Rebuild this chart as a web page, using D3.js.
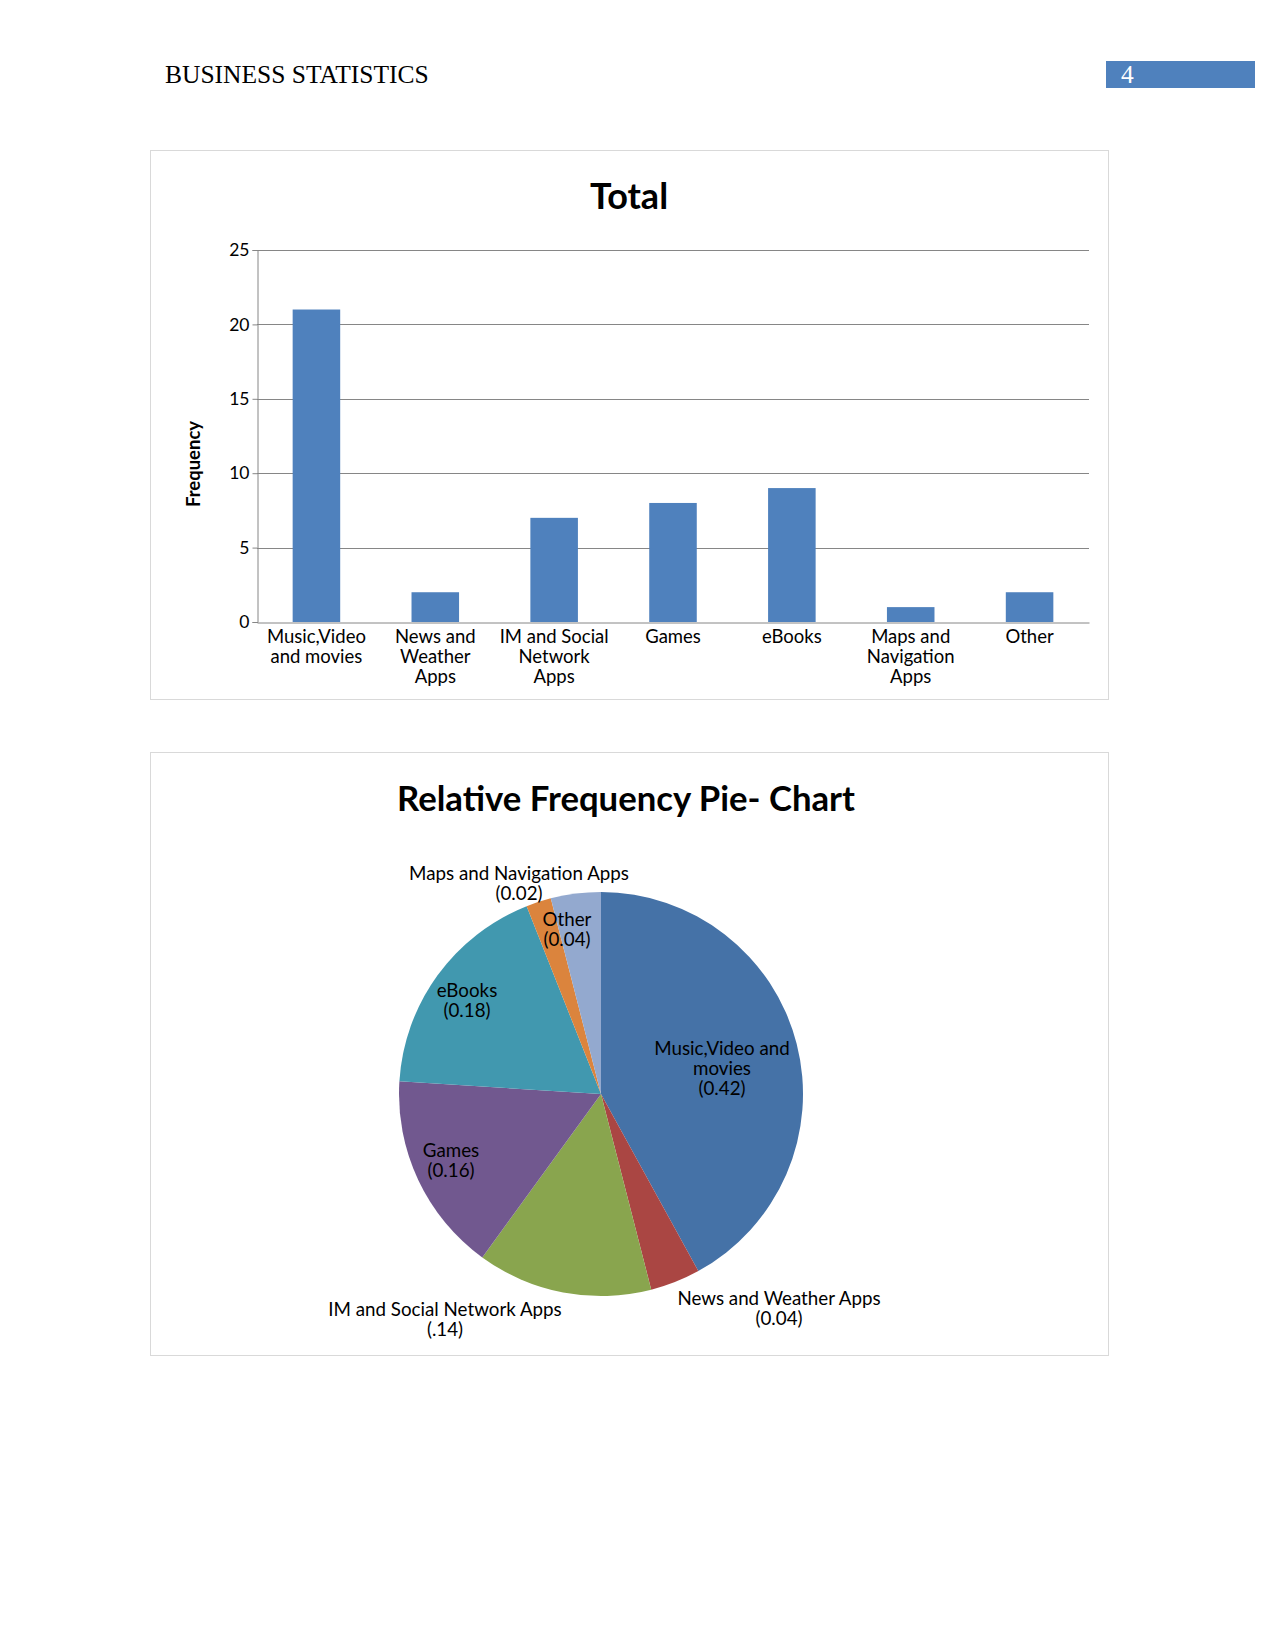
<!DOCTYPE html>
<html>
<head>
<meta charset="utf-8">
<script src="https://cdn.jsdelivr.net/npm/d3@7"></script>
<style>
  html, body { margin: 0; padding: 0; background: #fff; }
  svg { display: block; }
  text { font-family: Lato, "Open Sans", sans-serif; }
</style>
</head>
<body>
<svg id="page" width="1275" height="1650"></svg>
<script>
// ---- data ----
const categories = ["Music,Video and movies", "News and Weather Apps", "IM and Social Network Apps", "Games", "eBooks", "Maps and Navigation Apps", "Other"];
const barLabelLines = [["Music,Video", "and movies"], ["News and", "Weather", "Apps"], ["IM and Social", "Network", "Apps"], ["Games"], ["eBooks"], ["Maps and", "Navigation", "Apps"], ["Other"]];
const frequencies = [21, 2, 7, 8, 9, 1, 2];
const yTicks = [0, 5, 10, 15, 20, 25];
const pieLabelLines = [["Music,Video and", "movies", "(0.42)"], ["News and Weather Apps", "(0.04)"], ["IM and Social Network Apps", "(.14)"], ["Games", "(0.16)"], ["eBooks", "(0.18)"], ["Maps and Navigation Apps", "(0.02)"], ["Other", "(0.04)"]];
const pieColors = ["#4572A7", "#AA4643", "#89A54E", "#71588F", "#4198AF", "#DB843D", "#93A9CF"];

const svg = d3.select("#page");
svg.append("rect").attr("width", 1275).attr("height", 1650).attr("fill", "#fff");

// ---- header ----
svg.append("text").attr("x", 165).attr("y", 83)
  .style("font-family", "'Liberation Serif', 'Times New Roman', serif")
  .style("font-size", "25.5px").attr("fill", "#000").text("BUSINESS STATISTICS");
svg.append("rect").attr("x", 1106).attr("y", 61).attr("width", 149).attr("height", 27).attr("fill", "#4F81BD");
svg.append("text").attr("x", 1121).attr("y", 83)
  .style("font-family", "'Liberation Serif', 'Times New Roman', serif")
  .style("font-size", "25.5px").attr("fill", "#fff").text("4");

// ---- bar chart ----
const bar = svg.append("g");
bar.append("rect").attr("x", 150.5).attr("y", 150.5).attr("width", 958).attr("height", 549)
  .attr("fill", "#fff").attr("stroke", "#d9d9d9").attr("stroke-width", 1);
bar.append("text").attr("x", 629).attr("y", 209).attr("text-anchor", "middle")
  .style("font-size", "36px").style("font-weight", "bold").attr("fill", "#000").text("Total");

const x = d3.scaleBand().domain(categories).range([257, 1089]).padding(0);
const y = d3.scaleLinear().domain([0, 25]).range([622, 250]);

// gridlines
bar.append("g").selectAll("line").data(yTicks.filter(t => t > 0)).join("line")
  .attr("x1", 257).attr("x2", 1089)
  .attr("y1", d => Math.round(y(d)) + 0.5).attr("y2", d => Math.round(y(d)) + 0.5)
  .attr("stroke", "#868686").attr("stroke-width", 1);

// y axis
const yAxis = bar.append("g").attr("transform", "translate(257.5,0)")
  .call(d3.axisLeft(y).tickValues(yTicks).tickSize(5).tickPadding(3));
yAxis.select(".domain").attr("stroke", "#868686");
yAxis.selectAll(".tick line").attr("stroke", "#868686");
yAxis.selectAll(".tick text").style("font-family", "Lato, sans-serif").style("font-size", "17.5px").attr("fill", "#000");

// bars
const bw = x.bandwidth() * 0.4;
bar.append("g").selectAll("rect").data(frequencies).join("rect")
  .attr("x", (d, i) => x(categories[i]) + (x.bandwidth() - bw) / 2)
  .attr("y", d => y(d))
  .attr("width", bw)
  .attr("height", d => y(0) - y(d))
  .attr("fill", "#4F81BD");

// x axis
const xAxis = bar.append("g").attr("transform", "translate(0,622.5)")
  .call(d3.axisBottom(x).tickSize(0).tickFormat(""));
xAxis.select(".domain").attr("stroke", "#868686");
const xl = bar.append("g");
barLabelLines.forEach((lines, i) => {
  const t = xl.append("text").attr("text-anchor", "middle")
    .attr("x", x(categories[i]) + x.bandwidth() / 2).attr("y", 643)
    .style("font-size", "18.5px").attr("fill", "#000");
  lines.forEach((ln, j) => t.append("tspan").attr("x", x(categories[i]) + x.bandwidth() / 2).attr("dy", j === 0 ? 0 : 20).text(ln));
});

bar.append("text").attr("transform", "translate(200,464) rotate(-90)").attr("text-anchor", "middle")
  .style("font-size", "18.5px").style("font-weight", "bold").attr("fill", "#000").text("Frequency");

// ---- pie chart ----
const pg = svg.append("g");
pg.append("rect").attr("x", 150.5).attr("y", 752.5).attr("width", 958).attr("height", 603)
  .attr("fill", "#fff").attr("stroke", "#d9d9d9").attr("stroke-width", 1);
pg.append("text").attr("x", 626).attr("y", 811).attr("text-anchor", "middle")
  .style("font-size", "34.7px").style("font-weight", "bold").attr("fill", "#000").text("Relative Frequency Pie- Chart");

const cx = 601, cy = 1094, r = 202;
const pie = d3.pie().sort(null).value(d => d);
const arc = d3.arc().innerRadius(0).outerRadius(r);
const arcs = pie(frequencies);
const pc = pg.append("g").attr("transform", `translate(${cx},${cy})`);
pc.selectAll("path").data(arcs).join("path")
  .attr("d", arc).attr("fill", (d, i) => pieColors[i]);

// label positions (relative to centre, in px)
const labelPos = [[121, -25], [178, 215], [-156, 226], [-150, 67], [-134, -93], [-82, -210], [-34, -164]];
pieLabelLines.forEach((lines, i) => {
  const [lx, ly] = labelPos[i];
  const t = pc.append("text").attr("text-anchor", "middle")
    .attr("x", lx).attr("y", ly + 6 - (lines.length - 1) * 10)
    .style("font-size", "18.75px").attr("fill", "#000");
  lines.forEach((ln, j) => t.append("tspan").attr("x", lx).attr("dy", j === 0 ? 0 : 20).text(ln));
});
</script>
</body>
</html>
